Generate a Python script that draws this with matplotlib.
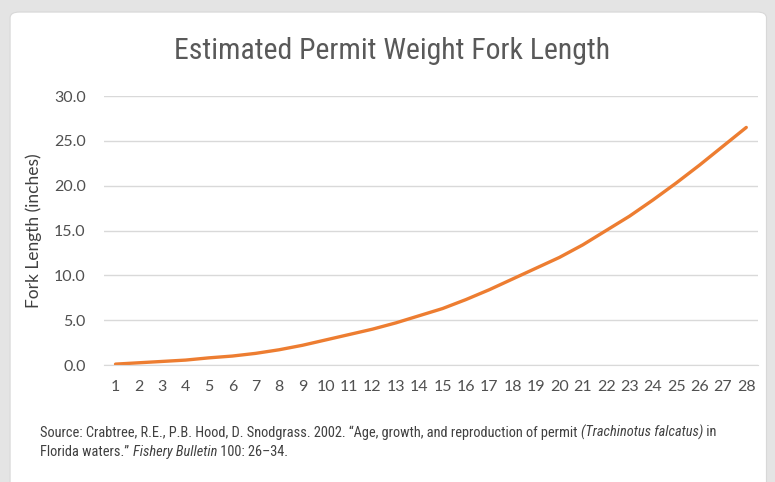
import matplotlib.pyplot as plt
from matplotlib.patches import FancyBboxPatch
from matplotlib import font_manager

# age (years) vs estimated fork length (inches)
ages = list(range(1, 29))
fork_len = [0.1, 0.25, 0.4, 0.55, 0.8, 1.0, 1.3, 1.7, 2.2, 2.8,
            3.4, 4.0, 4.7, 5.5, 6.3, 7.3, 8.4, 9.6, 10.8, 12.0,
            13.4, 15.0, 16.6, 18.4, 20.3, 22.3, 24.4, 26.5]
y_ticks = [0, 5, 10, 15, 20, 25, 30]

title = "Estimated Permit Weight Fork Length"
ylabel = "Fork Length (inches)"
src_line1 = [("Source: Crabtree, R.E., P.B. Hood, D. Snodgrass. 2002. \u201cAge, growth, and reproduction of permit ", "normal"),
             ("(Trachinotus falcatus)", "italic"), (" in", "normal")]
src_line2 = [("Florida waters.\u201d ", "normal"), ("Fishery Bulletin", "italic"), (" 100: 26\u201334.", "normal")]

names = {f.name for f in font_manager.fontManager.ttflist}
narrow = "Roboto"
for cand in ["Roboto Condensed", "Liberation Sans Narrow", "DejaVu Sans Condensed"]:
    if cand in names:
        narrow = cand
        break
body = "Lato"

fig = plt.figure(figsize=(7.75, 4.82), dpi=100)
fig.patch.set_facecolor("#e4e4e4")
card = FancyBboxPatch((0.013, -0.05), 0.976, 1.025, boxstyle="round,pad=0,rounding_size=0.012",
                      transform=fig.transFigure, facecolor="white", edgecolor="#d8d8d8", lw=0.8, zorder=-10)
fig.patches.append(card)

ax = fig.add_axes([0.134, 0.2427, 0.844, 0.558])
ax.set_facecolor("none")
ax.plot(ages, fork_len, color="#ED7D31", lw=2.4, solid_capstyle="round")
ax.set_xlim(0.5, 28.5)
ax.set_ylim(0, 30)
ax.set_yticks(y_ticks)
ax.set_yticklabels(["%.1f" % v for v in y_ticks])
ax.set_xticks(ages)
ax.set_xticklabels([str(a) for a in ages])
ax.grid(axis="y", color="#d9d9d9", lw=1)
ax.set_axisbelow(True)
for s in ax.spines.values():
    s.set_visible(False)
ax.spines["bottom"].set_visible(True)
ax.spines["bottom"].set_color("#d9d9d9")
ax.tick_params(length=0, colors="#505050", labelsize=11.5, pad=11)
ax.tick_params(axis="y", pad=13)
for lb in ax.get_xticklabels() + ax.get_yticklabels():
    lb.set_fontfamily(body)
ax.set_ylabel(ylabel, fontsize=12.5, color="#404040", fontfamily=body)
ax.yaxis.set_label_coords(-0.095, 0.5)

fig.canvas.draw()
r = fig.canvas.get_renderer()

# title, sized to the reference width
tt = fig.text(0.506, 0.895, title, ha="center", va="center", fontsize=20, color="#595959", fontfamily=narrow)
w = tt.get_window_extent(renderer=r).width
tt.set_fontsize(20 * 435.0 / w)

# source note with italic parts, pieces laid out one after another
def line_width(parts, size):
    tot = 0
    for txt, style in parts:
        t = fig.text(0, 0, txt, fontsize=size, fontfamily=narrow, style=style)
        tot += t.get_window_extent(renderer=r).width
        t.remove()
    return tot

src_size = 10 * 678.0 / line_width(src_line1, 10)
for line, ypos in ((src_line1, 0.103), (src_line2, 0.062)):
    x = 0.052
    for txt, style in line:
        t = fig.text(x, ypos, txt, fontsize=src_size, color="#404040", fontfamily=narrow, style=style,
                     va="center", ha="left")
        x += t.get_window_extent(renderer=r).width / fig.bbox.width

fig.savefig("out.png", dpi=100, facecolor=fig.get_facecolor())
